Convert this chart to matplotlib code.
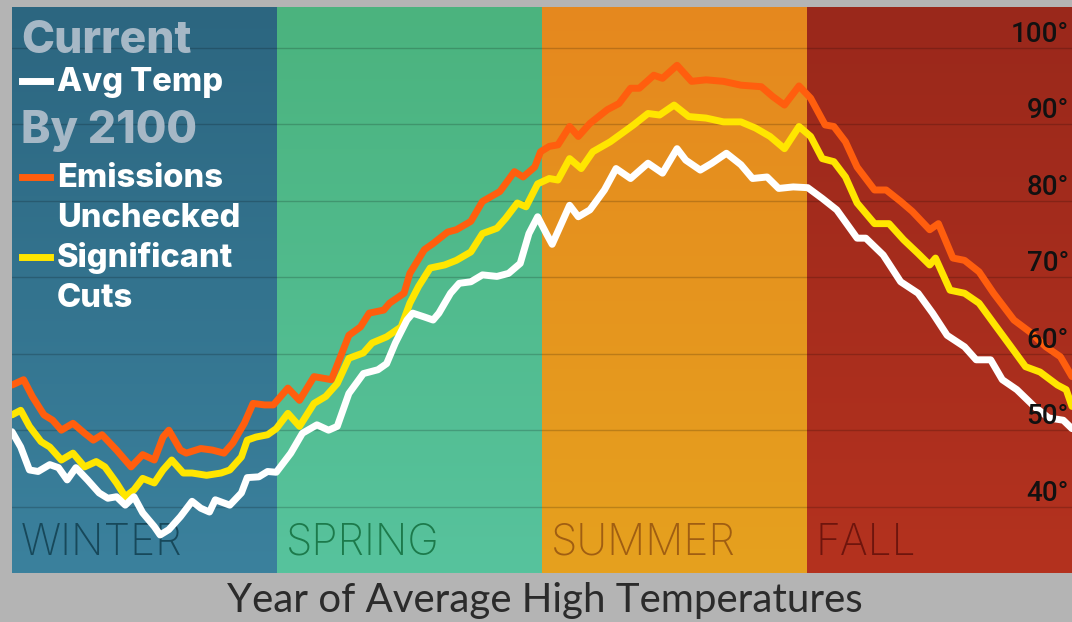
import matplotlib
matplotlib.use("Agg")
import matplotlib.pyplot as plt
import numpy as np
from matplotlib.colors import LinearSegmentedColormap

# day of year (0-365) and average high temperature, degrees F
current_days = [0, 3, 6, 9, 13, 16, 19, 22, 26, 30, 33, 36, 39, 42, 45, 49, 51, 54, 58, 62,
                65, 68, 70, 75, 79, 81, 85, 88, 91, 96, 100, 105, 109, 112, 116, 121, 126, 129, 132, 136,
                138, 142, 145, 147, 151, 154, 158, 162, 167, 171, 175, 178, 181, 184, 186, 192, 195, 199, 204, 208,
                213, 219, 224, 229, 232, 237, 241, 246, 251, 255, 260, 264, 269, 274, 279, 284, 291, 294, 300, 306,
                312, 317, 322, 328, 332, 337, 341, 346, 352, 357, 362, 365]
current_temp = [49.8, 47.8, 44.8, 44.6, 45.5, 45.1, 43.5, 45.1, 43.5, 41.8, 41.1, 41.3, 40.2, 41.3, 39.2, 37.4, 36.3, 37.0, 38.7, 40.7,
                39.8, 39.3, 40.9, 40.2, 41.8, 43.8, 43.9, 44.6, 44.5, 47.0, 49.6, 50.7, 50.0, 50.5, 54.8, 57.4, 57.9, 58.7, 61.4, 64.4,
                65.3, 64.8, 64.4, 65.3, 67.9, 69.2, 69.4, 70.3, 70.1, 70.5, 71.8, 75.7, 77.9, 75.7, 74.3, 79.4, 77.9, 78.8, 81.4, 84.2,
                82.9, 84.9, 83.6, 86.8, 85.3, 84.0, 84.9, 86.2, 84.7, 82.9, 83.1, 81.6, 81.8, 81.7, 80.3, 78.8, 75.1, 75.1, 72.9, 69.4,
                67.9, 65.3, 62.4, 60.9, 59.2, 59.2, 56.6, 55.3, 53.1, 51.6, 51.3, 50.2]

cuts_days = [0, 3, 6, 10, 13, 17, 21, 25, 29, 32, 36, 39, 42, 45, 49, 52, 55, 59, 62, 67,
             72, 75, 79, 81, 84, 88, 91, 95, 99, 104, 108, 112, 116, 121, 124, 129, 134, 137, 140, 144,
             149, 153, 158, 162, 167, 170, 174, 177, 181, 185, 188, 192, 196, 200, 206, 210, 214, 219, 223, 228,
             233, 239, 245, 251, 256, 261, 266, 271, 275, 279, 283, 287, 291, 297, 302, 307, 312, 316, 318, 323,
             328, 333, 338, 344, 349, 354, 360, 363, 365]
cuts_temp = [52.0, 52.6, 50.5, 48.5, 47.8, 46.1, 47.0, 45.2, 45.9, 45.2, 43.1, 41.3, 42.2, 43.7, 43.1, 44.8, 46.1, 44.4, 44.4, 44.1,
             44.4, 44.8, 46.5, 48.7, 49.1, 49.4, 50.2, 52.2, 50.5, 53.5, 54.4, 56.1, 59.4, 60.1, 61.4, 62.2, 63.5, 66.6, 68.8, 71.2,
             71.6, 72.2, 73.3, 75.7, 76.4, 77.7, 79.7, 79.2, 82.2, 82.9, 82.7, 85.5, 84.2, 86.4, 87.7, 88.8, 89.9, 91.4, 91.2, 92.5,
             91.0, 90.8, 90.3, 90.3, 89.5, 88.4, 86.8, 89.7, 88.4, 85.5, 85.1, 83.1, 79.7, 77.0, 77.0, 74.9, 73.1, 71.6, 72.5, 68.3,
             67.9, 66.6, 64.0, 60.9, 58.3, 57.6, 55.9, 55.3, 53.1]

unchecked_days = [0, 4, 7, 11, 14, 17, 21, 25, 28, 31, 36, 41, 45, 49, 52, 54, 58, 60, 65, 69,
                  73, 76, 80, 83, 87, 90, 95, 99, 104, 110, 116, 120, 123, 128, 130, 135, 137, 142, 145, 150,
                  153, 158, 162, 168, 173, 176, 180, 182, 185, 188, 192, 195, 199, 205, 209, 213, 216, 221, 224, 229,
                  234, 239, 245, 251, 258, 262, 266, 271, 275, 280, 283, 287, 291, 297, 301, 306, 310, 316, 319, 324,
                  328, 333, 338, 345, 351, 356, 361, 365]
unchecked_temp = [55.9, 56.6, 54.4, 52.0, 51.3, 50.0, 50.9, 49.6, 48.7, 49.4, 47.4, 45.2, 46.8, 46.1, 49.1, 50.0, 47.4, 47.0, 47.6, 47.4,
                  47.0, 48.3, 50.9, 53.5, 53.3, 53.3, 55.5, 53.9, 57.0, 56.6, 62.4, 63.5, 65.3, 65.7, 66.6, 67.9, 70.5, 73.6, 74.4, 75.9,
                  76.2, 77.3, 79.9, 81.2, 83.8, 83.1, 84.4, 86.4, 87.1, 87.3, 89.7, 88.4, 90.1, 91.9, 92.7, 94.7, 94.7, 96.4, 96.0, 97.7,
                  95.6, 95.8, 95.6, 95.1, 94.9, 93.6, 92.5, 95.0, 93.4, 89.9, 89.7, 87.7, 84.4, 81.4, 81.4, 79.9, 78.6, 76.2, 77.0, 72.5,
                  72.2, 70.7, 67.9, 64.4, 62.7, 60.9, 59.6, 57.0]

seasons = ["WINTER", "SPRING", "SUMMER", "FALL"]
season_edges = [0, 91.25, 182.5, 273.75, 365]
season_top = ["#2c6680", "#4bb37e", "#e5881e", "#9a281b"]
season_bottom = ["#3b819d", "#57c39d", "#e6a11f", "#b4321f"]
season_text = ["#17485a", "#1c7a4b", "#a05e12", "#6e150d"]

y_ticks = [100, 90, 80, 70, 60, 50, 40]

W, H = 1072, 622
fig = plt.figure(figsize=(W / 100, H / 100), dpi=100, facecolor="#b4b4b4")
ax = fig.add_axes([12 / W, 1 - 573 / H, 1 - 12 / W, 566 / H])
ymin, ymax = 31.33, 105.32

# season bands with a soft vertical gradient
for i in range(4):
    cmap = LinearSegmentedColormap.from_list("band", [season_bottom[i], season_top[i]])
    grad = np.linspace(0, 1, 256).reshape(-1, 1)
    ax.imshow(grad, cmap=cmap, origin="lower", aspect="auto", interpolation="bilinear",
              extent=[season_edges[i], season_edges[i + 1], ymin, ymax], zorder=0)
    ax.text(season_edges[i] + 3, 33.7, seasons[i], color=season_text[i], fontsize=30.5,
            family="Inter", fontweight="light", ha="left", va="baseline", zorder=1)

for t in y_ticks:
    ax.axhline(t, color="black", alpha=0.18, lw=1, zorder=1)

line_kw = dict(lw=5, solid_joinstyle="round", solid_capstyle="round", zorder=3)
ax.plot(unchecked_days, unchecked_temp, color="#ff5e0e", **line_kw)
ax.plot(cuts_days, cuts_temp, color="#ffe600", **line_kw)
ax.plot(current_days, current_temp, color="white", **line_kw)

for t in y_ticks:
    ax.text(0.997, t + 0.8, f"{t}°", transform=ax.get_yaxis_transform(), ha="right", va="baseline",
            fontsize=20, family="Roboto", fontweight="medium", color="#111111", zorder=4)

ax.set_xlim(0, 365)
ax.set_ylim(ymin, ymax)
ax.axis("off")


def px(x, y):
    return x / W, 1 - y / H


# legend block in the top-left corner
fig.text(*px(21, 53), "Current", color="#a6b8c6", fontsize=32, fontweight="heavy", family="Inter", va="baseline")
fig.text(*px(21, 143), "By 2100", color="#a6b8c6", fontsize=32, fontweight="heavy", family="Inter", va="baseline")
entries = [(91, ["Avg Temp"], "white"),
           (187, ["Emissions", "Unchecked"], "#ff5e0e"),
           (267, ["Significant", "Cuts"], "#ffe600")]
for base, lines, col in entries:
    fig.add_artist(plt.Line2D([22 / W, 50 / W], [1 - (base - 10) / H] * 2, color=col, lw=5))
    for j, s in enumerate(lines):
        fig.text(*px(57, base + 40 * j), s, color="white", fontsize=23.5, fontweight="heavy",
                 family="Inter", va="baseline")

fig.text(*px(545, 612), "Year of Average High Temperatures", color="#2b2b2b", fontsize=29,
         family="Lato", ha="center", va="baseline")

fig.savefig("out.png", dpi=100, facecolor=fig.get_facecolor())
